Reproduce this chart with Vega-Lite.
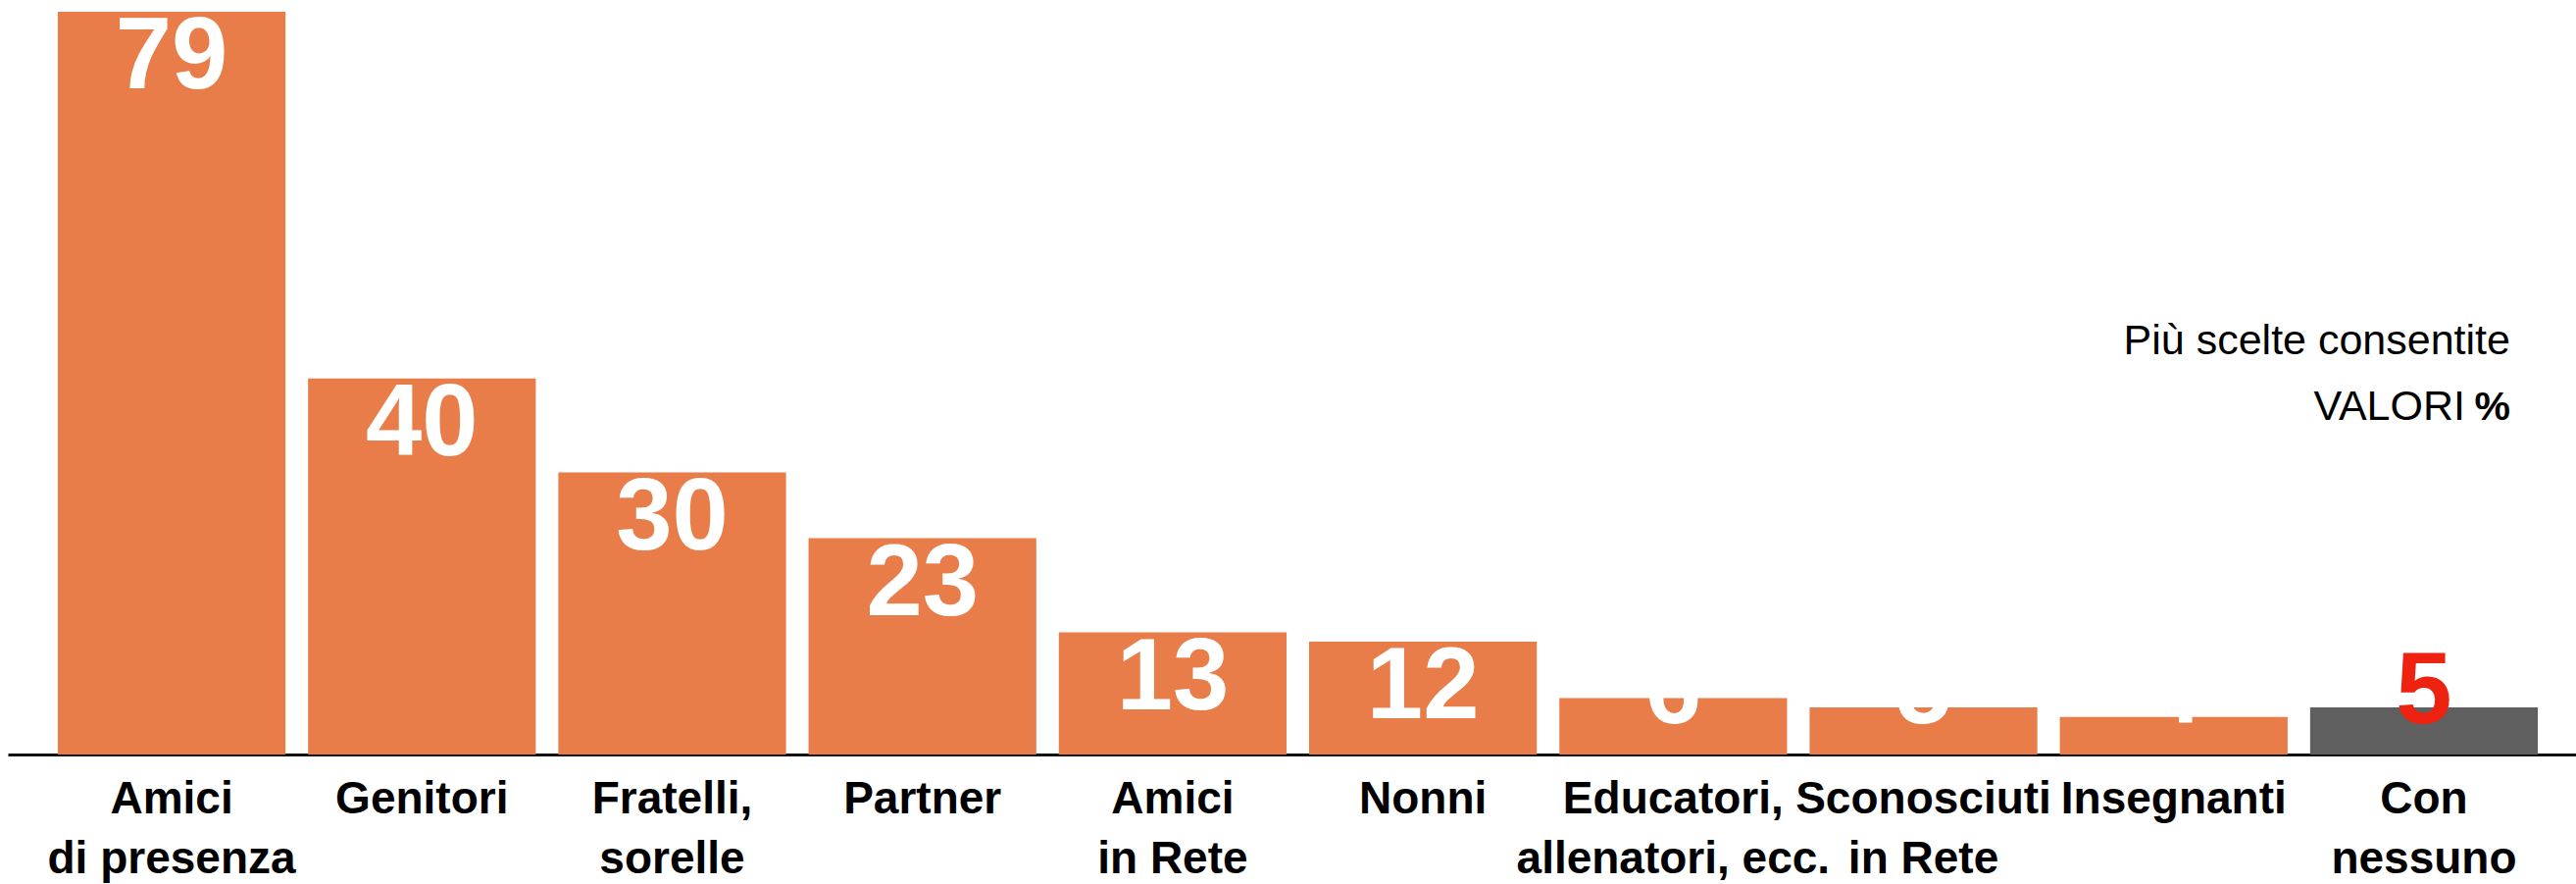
{
  "$schema": "https://vega.github.io/schema/vega-lite/v6.json",
  "width": 2619,
  "height": 757,
  "autosize": {"type": "none"},
  "padding": {"left": 8, "top": 12, "right": 0, "bottom": 132},
  "background": "white",
  "config": {"view": {"stroke": null}},
  "data": {"values": [
    {"cat": "Amici|di presenza", "value": 79, "group": "a"},
    {"cat": "Genitori", "value": 40, "group": "a"},
    {"cat": "Fratelli,|sorelle", "value": 30, "group": "a"},
    {"cat": "Partner", "value": 23, "group": "a"},
    {"cat": "Amici|in Rete", "value": 13, "group": "a"},
    {"cat": "Nonni", "value": 12, "group": "a"},
    {"cat": "Educatori,|allenatori, ecc.", "value": 6, "group": "a"},
    {"cat": "Sconosciuti|in Rete", "value": 5, "group": "a"},
    {"cat": "Insegnanti", "value": 4, "group": "a"},
    {"cat": "Con|nessuno", "value": 5, "group": "b"}
  ]},
  "encoding": {
    "x": {
      "field": "cat", "type": "nominal", "sort": null,
      "scale": {"paddingInner": 0.09, "paddingOuter": 0.176, "align": 0.567},
      "axis": {
        "title": null, "domainColor": "#111111", "domainWidth": 3, "ticks": false,
        "labelAngle": 0, "labelFont": "Liberation Sans", "labelFontWeight": "bold",
        "labelFontSize": 46, "labelColor": "#000000", "labelPadding": 23, "labelLineHeight": 61,
        "labelExpr": "split(datum.label, '|')", "labelOverlap": false, "labelBound": false,
        "labelLimit": 0, "grid": false
      }
    }
  },
  "layer": [
    {
      "mark": {"type": "bar"},
      "encoding": {
        "y": {"field": "value", "type": "quantitative", "scale": {"domain": [0, 79], "nice": false}, "axis": null},
        "color": {"field": "group", "type": "nominal", "scale": {"domain": ["a", "b"], "range": ["#E87D4A", "#5F5F5F"]}, "legend": null}
      }
    },
    {
      "mark": {"type": "text", "baseline": "top", "fontSize": 103, "fontWeight": "bold", "font": "Liberation Sans", "dy": -3},
      "encoding": {
        "y": {"field": "value", "type": "quantitative", "scale": {"domain": [11.5, 79], "range": [647, 0], "clamp": true, "nice": false, "zero": false}, "axis": null},
        "text": {"field": "value", "type": "quantitative"},
        "color": {"field": "group", "type": "nominal", "scale": {"domain": ["a", "b"], "range": ["#FFFFFF", "#EE2211"]}, "legend": null}
      }
    },
    {
      "data": {"values": [{}]},
      "mark": {"type": "text", "align": "right", "baseline": "alphabetic", "fontSize": 43, "font": "Liberation Sans", "dx": 88, "text": "Più scelte consentite", "color": "#000000"},
      "encoding": {
        "x": {"datum": "Con|nessuno", "type": "nominal"},
        "y": {"datum": 42.6, "type": "quantitative", "scale": {"domain": [0, 79], "nice": false}, "axis": null}
      }
    },
    {
      "data": {"values": [{}]},
      "mark": {"type": "text", "align": "right", "baseline": "alphabetic", "fontSize": 43, "font": "Liberation Sans", "dx": 42, "text": "VALORI", "color": "#000000"},
      "encoding": {
        "x": {"datum": "Con|nessuno", "type": "nominal"},
        "y": {"datum": 35.6, "type": "quantitative", "scale": {"domain": [0, 79], "nice": false}, "axis": null}
      }
    },
    {
      "data": {"values": [{}]},
      "mark": {"type": "text", "align": "right", "baseline": "alphabetic", "fontSize": 41, "fontWeight": "bold", "font": "Liberation Sans", "dx": 88, "text": "%", "color": "#000000"},
      "encoding": {
        "x": {"datum": "Con|nessuno", "type": "nominal"},
        "y": {"datum": 35.6, "type": "quantitative", "scale": {"domain": [0, 79], "nice": false}, "axis": null}
      }
    }
  ],
  "resolve": {"scale": {"y": "independent", "color": "independent"}}
}
